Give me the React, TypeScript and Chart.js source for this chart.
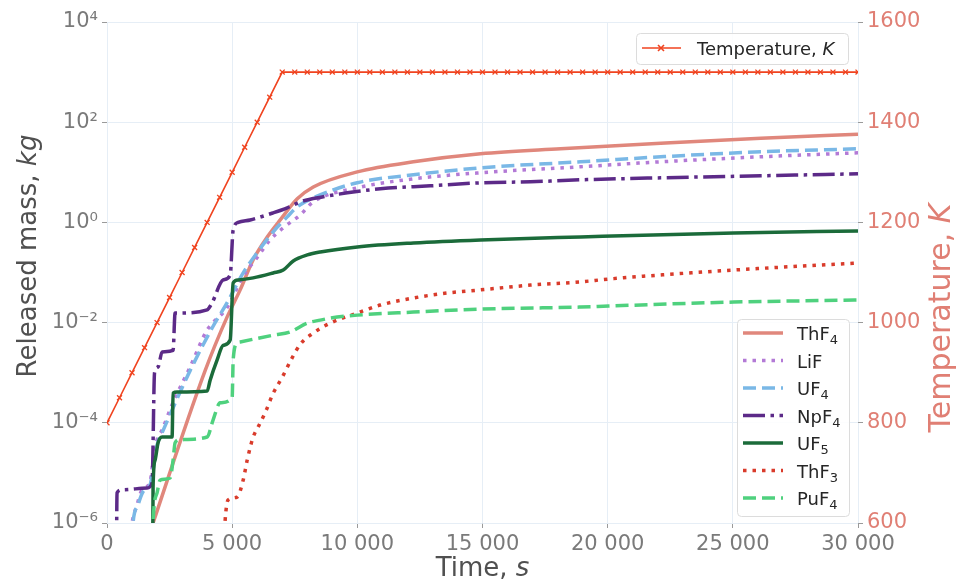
import React, { useEffect, useRef } from 'react';
import { Chart, registerables } from 'chart.js';

Chart.register(...registerables);

// ---------------- data ----------------
const tempTimes = [0, 500, 1000, 1500, 2000, 2500, 3000, 3500, 4000, 4500, 5000, 5500, 6000, 6500, 7000, 7500, 8000, 8500, 9000, 9500, 10000, 10500, 11000, 11500, 12000, 12500, 13000, 13500, 14000, 14500, 15000, 15500, 16000, 16500, 17000, 17500, 18000, 18500, 19000, 19500, 20000, 20500, 21000, 21500, 22000, 22500, 23000, 23500, 24000, 24500, 25000, 25500, 26000, 26500, 27000, 27500, 28000, 28500, 29000, 29500, 30000];
const tempValues = [800, 850, 900, 950, 1000, 1050, 1100, 1150, 1200, 1250, 1300, 1350, 1400, 1450, 1500, 1500, 1500, 1500, 1500, 1500, 1500, 1500, 1500, 1500, 1500, 1500, 1500, 1500, 1500, 1500, 1500, 1500, 1500, 1500, 1500, 1500, 1500, 1500, 1500, 1500, 1500, 1500, 1500, 1500, 1500, 1500, 1500, 1500, 1500, 1500, 1500, 1500, 1500, 1500, 1500, 1500, 1500, 1500, 1500, 1500, 1500];

const thf4Times = [1800, 1840, 3920, 4800, 5320, 5840, 6400, 6920, 7600, 8240, 10000, 12240, 14920, 18120, 22120, 26120, 30000];
const thf4Values = [8.7e-7, 1.0e-6, 1.1e-3, 1.3e-2, 4.5e-2, 0.18, 0.51, 1.12, 2.95, 5.1, 10.2, 16.2, 23.4, 29.5, 38, 48, 57.5];

const lifTimes = [920, 1000, 1200, 1400, 1720, 1840, 2000, 2200, 2600, 3320, 4000, 4800, 5440, 6000, 6520, 7040, 7720, 8240, 10000, 12240, 14920, 18920, 22120, 26120, 30000];
const lifValues = [4.6e-7, 1.0e-6, 2.3e-6, 4.6e-6, 6.6e-6, 1.7e-5, 4.6e-5, 7.2e-5, 2.3e-4, 1.3e-3, 7.1e-3, 2.0e-2, 8.5e-2, 0.2, 0.45, 0.78, 1.41, 2.57, 4.9, 7.4, 9.8, 12.9, 16.2, 20.4, 24.5];

const uf4Times = [1000, 1040, 1240, 1440, 1720, 1840, 2000, 2200, 2600, 3320, 4200, 4800, 5440, 6000, 6640, 7200, 7600, 8240, 10000, 12240, 14920, 18920, 22120, 26120, 30000];
const uf4Values = [4.6e-7, 1.0e-6, 2.3e-6, 4.2e-6, 5.8e-6, 1.15e-5, 3.6e-5, 6.3e-5, 1.8e-4, 1.1e-3, 7.8e-3, 2.5e-2, 9.8e-2, 0.25, 0.65, 1.29, 2.04, 3.1, 6.2, 8.9, 12.3, 16.2, 20.4, 25.7, 29.5];

const npf4Times = [380, 400, 600, 1600, 1800, 1900, 2040, 2200, 2640, 2720, 2800, 4000, 4200, 4640, 4920, 5040, 5240, 5720, 6640, 7200, 7720, 8640, 9600, 10920, 12920, 14920, 16920, 18920, 22120, 26120, 30000];
const npf4Values = [3.2e-7, 4.0e-6, 4.6e-6, 5.0e-6, 6.3e-6, 1.0e-3, 1.3e-3, 2.6e-3, 2.8e-3, 1.55e-2, 1.55e-2, 1.8e-2, 2.5e-2, 7.1e-2, 8.9e-2, 0.71, 1.0, 1.12, 1.55, 1.95, 2.57, 3.24, 3.89, 4.68, 5.37, 6.17, 6.46, 7.08, 7.76, 8.51, 9.33];

const uf5Times = [1830, 1840, 1920, 2040, 2200, 2600, 2640, 2800, 4000, 4120, 4400, 4640, 4920, 5040, 5240, 5840, 6640, 7040, 7440, 8000, 8520, 10000, 12240, 14920, 18920, 25040, 30000];
const uf5Values = [5.0e-7, 5.2e-6, 1.8e-5, 4.0e-5, 5.2e-5, 5.2e-5, 3.9e-4, 4.1e-4, 4.3e-4, 7.1e-4, 1.8e-3, 3.5e-3, 4.5e-3, 6.2e-2, 7.1e-2, 7.8e-2, 9.8e-2, 0.112, 0.17, 0.224, 0.257, 0.324, 0.389, 0.447, 0.513, 0.617, 0.676];

const thf3Times = [4680, 4720, 4840, 5200, 5440, 5600, 5840, 6040, 6320, 6640, 7000, 7400, 7720, 8240, 8920, 10000, 10920, 12240, 13600, 14920, 16920, 18920, 20040, 25040, 30000];
const thf3Values = [4.6e-7, 1.15e-6, 2.9e-6, 3.3e-6, 7.2e-6, 1.8e-5, 5.2e-5, 8.3e-5, 1.6e-4, 3.9e-4, 8.1e-4, 2.0e-3, 3.7e-3, 6.2e-3, 9.8e-3, 1.55e-2, 2.24e-2, 3.1e-2, 3.9e-2, 4.5e-2, 5.6e-2, 6.5e-2, 7.4e-2, 0.112, 0.155];

const puf4Times = [1830, 1840, 2000, 2120, 2520, 2640, 2720, 2920, 4000, 4240, 4520, 5000, 5040, 5200, 5320, 6640, 7320, 8000, 8520, 8920, 10000, 12240, 14920, 18920, 20040, 25040, 30000];
const puf4Values = [5.0e-7, 1.0e-6, 4.0e-6, 7.2e-6, 7.9e-6, 1.8e-5, 4.0e-5, 4.6e-5, 5.2e-5, 1.15e-4, 2.5e-4, 3.2e-4, 1.8e-3, 3.9e-3, 4.1e-3, 5.6e-3, 6.5e-3, 9.8e-3, 1.12e-2, 1.23e-2, 1.41e-2, 1.62e-2, 1.86e-2, 2.04e-2, 2.14e-2, 2.57e-2, 2.82e-2];

const xTicks = [0, 5000, 10000, 15000, 20000, 25000, 30000];
const xTickLabels = ['0', '5 000', '10 000', '15 000', '20 000', '25 000', '30 000'];
const yTicks = [1e-6, 1e-4, 1e-2, 1, 1e2, 1e4];
const yTickLabels = ['10⁻⁶', '10⁻⁴', '10⁻²', '10⁰', '10²', '10⁴'];
const y2Ticks = [600, 800, 1000, 1200, 1400, 1600];
const y2TickLabels = ['600', '800', '1000', '1200', '1400', '1600'];

// ---------------- styles ----------------
const FONT = "'DejaVu Sans', 'Liberation Sans', sans-serif";
const TICK_COLOR = '#7a7a7a';
const TITLE_COLOR = '#505050';
const SALMON = '#e07f74';
const GRID = '#e6eef6';
const TEMP_COLOR = '#f0431f';

type Series = { key: string; label: [string, string]; t: number[]; v: number[]; color: string; width: number; dash: number[] };

const series: Series[] = [
  { key: 'ThF4', label: ['ThF', '4'], t: thf4Times, v: thf4Values, color: '#e0877c', width: 3.5, dash: [] },
  { key: 'LiF', label: ['LiF', ''], t: lifTimes, v: lifValues, color: '#b37ad6', width: 3.5, dash: [3.5, 6] },
  { key: 'UF4', label: ['UF', '4'], t: uf4Times, v: uf4Values, color: '#7ab8e6', width: 3.5, dash: [13, 6] },
  { key: 'NpF4', label: ['NpF', '4'], t: npf4Times, v: npf4Values, color: '#5c2a88', width: 3.5, dash: [22, 5.5, 3.5, 5.5] },
  { key: 'UF5', label: ['UF', '5'], t: uf5Times, v: uf5Values, color: '#1b6b3a', width: 3.5, dash: [] },
  { key: 'ThF3', label: ['ThF', '3'], t: thf3Times, v: thf3Values, color: '#d93b2b', width: 3.5, dash: [3.5, 6] },
  { key: 'PuF4', label: ['PuF', '4'], t: puf4Times, v: puf4Values, color: '#4fd17e', width: 3.5, dash: [13, 6] },
];

function drawSegments(ctx: CanvasRenderingContext2D, segs: { t: string; italic?: boolean }[], cx: number, cy: number, rot: number, size: number, color: string) {
  ctx.save();
  ctx.translate(cx, cy);
  ctx.rotate(rot);
  ctx.fillStyle = color;
  ctx.textBaseline = 'middle';
  ctx.textAlign = 'left';
  let total = 0;
  const widths = segs.map((s) => {
    ctx.font = `${s.italic ? 'italic ' : ''}${size}px ${FONT}`;
    const w = ctx.measureText(s.t).width;
    total += w;
    return w;
  });
  let x = -total / 2;
  segs.forEach((s, i) => {
    ctx.font = `${s.italic ? 'italic ' : ''}${size}px ${FONT}`;
    ctx.fillText(s.t, x, 0);
    x += widths[i];
  });
  ctx.restore();
}

function roundRect(ctx: CanvasRenderingContext2D, x: number, y: number, w: number, h: number, r: number) {
  ctx.beginPath();
  ctx.moveTo(x + r, y);
  ctx.lineTo(x + w - r, y);
  ctx.arcTo(x + w, y, x + w, y + r, r);
  ctx.lineTo(x + w, y + h - r);
  ctx.arcTo(x + w, y + h, x + w - r, y + h, r);
  ctx.lineTo(x + r, y + h);
  ctx.arcTo(x, y + h, x, y + h - r, r);
  ctx.lineTo(x, y + r);
  ctx.arcTo(x, y, x + r, y, r);
  ctx.closePath();
}

const decorPlugin = {
  id: 'decor',
  afterDraw(chart: any) {
    const ctx: CanvasRenderingContext2D = chart.ctx;
    const area = chart.chartArea;
    // axis titles
    drawSegments(ctx, [{ t: 'Released mass, ' }, { t: 'kg', italic: true }], 29, 256, -Math.PI / 2, 26, TITLE_COLOR);
    drawSegments(ctx, [{ t: 'Temperature, ' }, { t: 'K', italic: true }], 942, 318, -Math.PI / 2, 30, SALMON);
    drawSegments(ctx, [{ t: 'Time, ' }, { t: 's', italic: true }], (area.left + area.right) / 2, 569, 0, 26, TITLE_COLOR);

    // legend 1: temperature
    ctx.save();
    roundRect(ctx, 636.5, 33.5, 212, 31, 4);
    ctx.fillStyle = 'rgba(255,255,255,0.85)';
    ctx.fill();
    ctx.strokeStyle = '#dcdcdc';
    ctx.lineWidth = 1;
    ctx.stroke();
    ctx.strokeStyle = TEMP_COLOR;
    ctx.lineWidth = 1.6;
    ctx.beginPath();
    ctx.moveTo(642, 48);
    ctx.lineTo(681, 48);
    ctx.stroke();
    ctx.beginPath();
    ctx.moveTo(658, 45);
    ctx.lineTo(664, 51);
    ctx.moveTo(664, 45);
    ctx.lineTo(658, 51);
    ctx.stroke();
    ctx.fillStyle = '#262626';
    ctx.textBaseline = 'alphabetic';
    ctx.font = `18px ${FONT}`;
    ctx.fillText('Temperature, ', 697, 55);
    const w1 = ctx.measureText('Temperature, ').width;
    ctx.font = `italic 18px ${FONT}`;
    ctx.fillText('K', 697 + w1, 55);
    ctx.restore();

    // legend 2: species
    ctx.save();
    roundRect(ctx, 737.5, 319.5, 112, 197, 4);
    ctx.fillStyle = 'rgba(255,255,255,0.85)';
    ctx.fill();
    ctx.strokeStyle = '#dcdcdc';
    ctx.lineWidth = 1;
    ctx.stroke();
    series.forEach((s, i) => {
      const y = 333 + i * 27.5;
      ctx.strokeStyle = s.color;
      ctx.lineWidth = s.width;
      ctx.lineCap = 'butt';
      ctx.setLineDash(s.dash);
      ctx.beginPath();
      ctx.moveTo(743, y);
      ctx.lineTo(783, y);
      ctx.stroke();
      ctx.setLineDash([]);
      ctx.fillStyle = '#262626';
      ctx.textBaseline = 'alphabetic';
      ctx.font = `18px ${FONT}`;
      ctx.fillText(s.label[0], 797, y + 7);
      const w = ctx.measureText(s.label[0]).width;
      if (s.label[1]) {
        ctx.font = `13px ${FONT}`;
        ctx.fillText(s.label[1], 797 + w, y + 11);
      }
    });
    ctx.restore();
  },
};

export default function App() {
  const ref = useRef<HTMLCanvasElement | null>(null);

  useEffect(() => {
    if (!ref.current) return;
    const datasets: any[] = [
      {
        label: 'Temperature, K',
        data: tempTimes.map((t, i) => ({ x: t, y: tempValues[i] })),
        yAxisID: 'y2',
        borderColor: TEMP_COLOR,
        backgroundColor: TEMP_COLOR,
        borderWidth: 1.6,
        pointStyle: 'crossRot',
        pointRadius: 3.5,
        pointBorderWidth: 1.3,
        pointBorderColor: TEMP_COLOR,
        tension: 0,
        order: 0,
      },
    ];
    series.forEach((s, i) => {
      datasets.push({
        label: s.key,
        data: s.t.map((t, j) => ({ x: t, y: s.v[j] })),
        yAxisID: 'y',
        borderColor: s.color,
        backgroundColor: s.color,
        borderWidth: s.width,
        borderDash: s.dash,
        borderCapStyle: 'butt',
        borderJoinStyle: 'round',
        pointRadius: 0,
        cubicInterpolationMode: 'monotone',
        order: series.length - i,
      });
    });

    const chart = new Chart(ref.current, {
      type: 'line',
      data: { datasets },
      plugins: [decorPlugin],
      options: {
        animation: false,
        responsive: false,
        devicePixelRatio: 1,
        layout: { padding: { top: 22, left: 0, right: 0, bottom: 0 } },
        plugins: { legend: { display: false }, tooltip: { enabled: false } },
        scales: {
          x: {
            type: 'linear',
            min: 0,
            max: 30000,
            afterBuildTicks: (s: any) => {
              s.ticks = xTicks.map((v) => ({ value: v }));
            },
            afterFit: (s: any) => {
              s.height = 62;
            },
            ticks: {
              callback: (_v: any, i: number) => xTickLabels[i],
              color: TICK_COLOR,
              font: { family: FONT, size: 21 },
              padding: 4,
              maxRotation: 0,
              autoSkip: false,
            },
            grid: { color: GRID, lineWidth: 1, tickColor: '#9a9a9a', tickLength: 5 },
            border: { display: false },
          },
          y: {
            type: 'logarithmic',
            position: 'left',
            min: 1e-6,
            max: 1e4,
            afterBuildTicks: (s: any) => {
              s.ticks = yTicks.map((v) => ({ value: v }));
            },
            afterFit: (s: any) => {
              s.width = 107;
            },
            ticks: {
              callback: (_v: any, i: number) => yTickLabels[i],
              color: TICK_COLOR,
              font: { family: FONT, size: 21 },
              padding: 4,
              autoSkip: false,
            },
            grid: { color: GRID, lineWidth: 1, tickColor: '#9a9a9a', tickLength: 5 },
            border: { display: false },
          },
          y2: {
            type: 'linear',
            position: 'right',
            min: 600,
            max: 1600,
            afterBuildTicks: (s: any) => {
              s.ticks = y2Ticks.map((v) => ({ value: v }));
            },
            afterFit: (s: any) => {
              s.width = 107;
            },
            ticks: {
              callback: (_v: any, i: number) => y2TickLabels[i],
              color: SALMON,
              font: { family: FONT, size: 21 },
              padding: 4,
              autoSkip: false,
            },
            grid: { drawOnChartArea: false, tickColor: '#9a9a9a', tickLength: 5 },
            border: { display: false },
          },
        },
      },
    } as any);
    return () => chart.destroy();
  }, []);

  return (
    <div style={{ position: 'absolute', left: 0, top: 0, width: 965, height: 585, background: '#fff' }}>
      <canvas ref={ref} width={965} height={585} style={{ width: 965, height: 585, display: 'block' }} />
    </div>
  );
}
